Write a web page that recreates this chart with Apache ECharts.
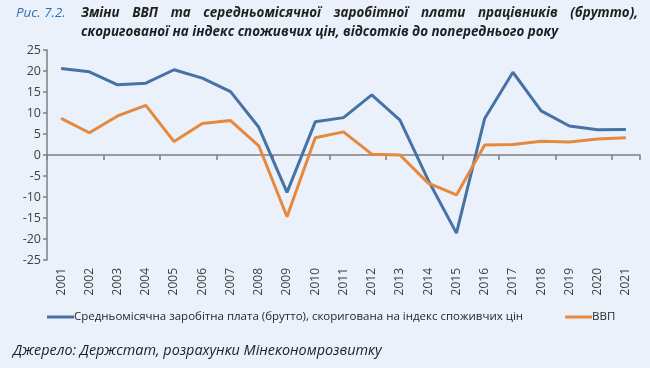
<!DOCTYPE html>
<html>
<head>
<meta charset="utf-8">
<script src="https://cdn.jsdelivr.net/npm/echarts@6/dist/echarts.min.js"></script>
<style>
  html, body { margin: 0; padding: 0; background: #eaf1fa; }
  #wrap { position: relative; width: 650px; height: 368px; background: #eaf1fa; overflow: hidden; }
  #chart { position: absolute; left: 0; top: 0; width: 650px; height: 368px; }
  #title { position: absolute; left: 16px; top: 3px; width: 622px; font-family: "Open Sans", "Noto Sans", sans-serif; font-size: 13.4px; line-height: 19px; font-style: italic; font-weight: bold; color: #1f1f1f; }
  #title .l1 { text-align: justify; text-align-last: justify; white-space: nowrap; }
  #title .rn { color: #2f6fb5; font-weight: normal; display: inline-block; width: 65px; text-align: left; text-align-last: left; }
  #title .l2 { padding-left: 65px; }
  #src { position: absolute; left: 13px; top: 340px; font-family: "Open Sans", "Noto Sans", sans-serif; font-size: 14.4px; font-style: italic; color: #1f1f1f; }
</style>
</head>
<body>
<div id="wrap">
  <div id="chart"></div>
  <div id="title">
    <div class="l1"><span class="rn">Рис. 7.2.</span>Зміни ВВП та середньомісячної заробітної плати працівників (брутто),</div>
    <div class="l2">скоригованої на індекс споживчих цін, відсотків до попереднього року</div>
  </div>
  <div id="src">Джерело: Держстат, розрахунки Мінекономрозвитку</div>
</div>
<script>
const years = ['2001','2002','2003','2004','2005','2006','2007','2008','2009','2010','2011','2012','2013','2014','2015','2016','2017','2018','2019','2020','2021'];
const wageName = 'Средньомісячна заробітна плата (брутто), скоригована на індекс споживчих цін';
const gdpName = 'ВВП';
const wage = [20.6, 19.8, 16.7, 17.1, 20.3, 18.3, 15.1, 6.6, -8.9, 7.9, 8.9, 14.3, 8.3, -6.0, -18.6, 8.7, 19.7, 10.5, 6.9, 6.0, 6.1];
const gdp = [8.7, 5.3, 9.3, 11.8, 3.2, 7.5, 8.2, 2.2, -14.7, 4.1, 5.5, 0.2, 0.0, -6.7, -9.5, 2.4, 2.5, 3.3, 3.1, 3.8, 4.1];
const yTicks = { min: -25, max: 25, interval: 5 };

const chart = echarts.init(document.getElementById('chart'), null, { renderer: 'canvas' });
const axisColor = '#7f7f7f';
const textColor = '#404040';
const font = '"Open Sans", "Noto Sans", sans-serif';
chart.setOption({
  backgroundColor: '#eaf1fa',
  animation: false,
  grid: { left: 47, right: 10, top: 50, bottom: 108, containLabel: false },
  legend: {
    left: 42, top: 306, itemGap: 42,
    itemWidth: 27, itemHeight: 3, icon: 'rect',
    textStyle: { fontFamily: font, fontSize: 11.5, color: '#262626', padding: [0, 0, 0, -5] },
    data: [wageName, gdpName]
  },
  xAxis: [
    {
      type: 'category', data: years, boundaryGap: true,
      axisLine: { onZero: true, lineStyle: { color: axisColor, width: 1.5 } },
      axisTick: { show: true, length: 5, lineStyle: { color: axisColor, width: 1.5 } },
      axisLabel: { show: false }
    },
    {
      type: 'category', data: years, boundaryGap: true, position: 'bottom',
      axisLine: { show: false, onZero: false },
      axisTick: { show: false },
      axisLabel: { rotate: 90, margin: 8, fontFamily: font, fontSize: 12, color: textColor }
    }
  ],
  yAxis: {
    type: 'value', min: yTicks.min, max: yTicks.max, interval: yTicks.interval,
    splitLine: { show: false },
    axisLine: { show: true, lineStyle: { color: axisColor, width: 1.5 } },
    axisTick: { show: true, length: 4, lineStyle: { color: axisColor, width: 1.5 } },
    axisLabel: { margin: 6, fontFamily: font, fontSize: 12.5, color: textColor }
  },
  series: [
    {
      name: wageName, type: 'line', data: wage, xAxisIndex: 0,
      symbol: 'none', lineStyle: { color: '#4673a6', width: 3 }, itemStyle: { color: '#4673a6' }
    },
    {
      name: gdpName, type: 'line', data: gdp, xAxisIndex: 0,
      symbol: 'none', lineStyle: { color: '#e6883e', width: 3 }, itemStyle: { color: '#e6883e' }
    }
  ]
});
</script>
</body>
</html>
